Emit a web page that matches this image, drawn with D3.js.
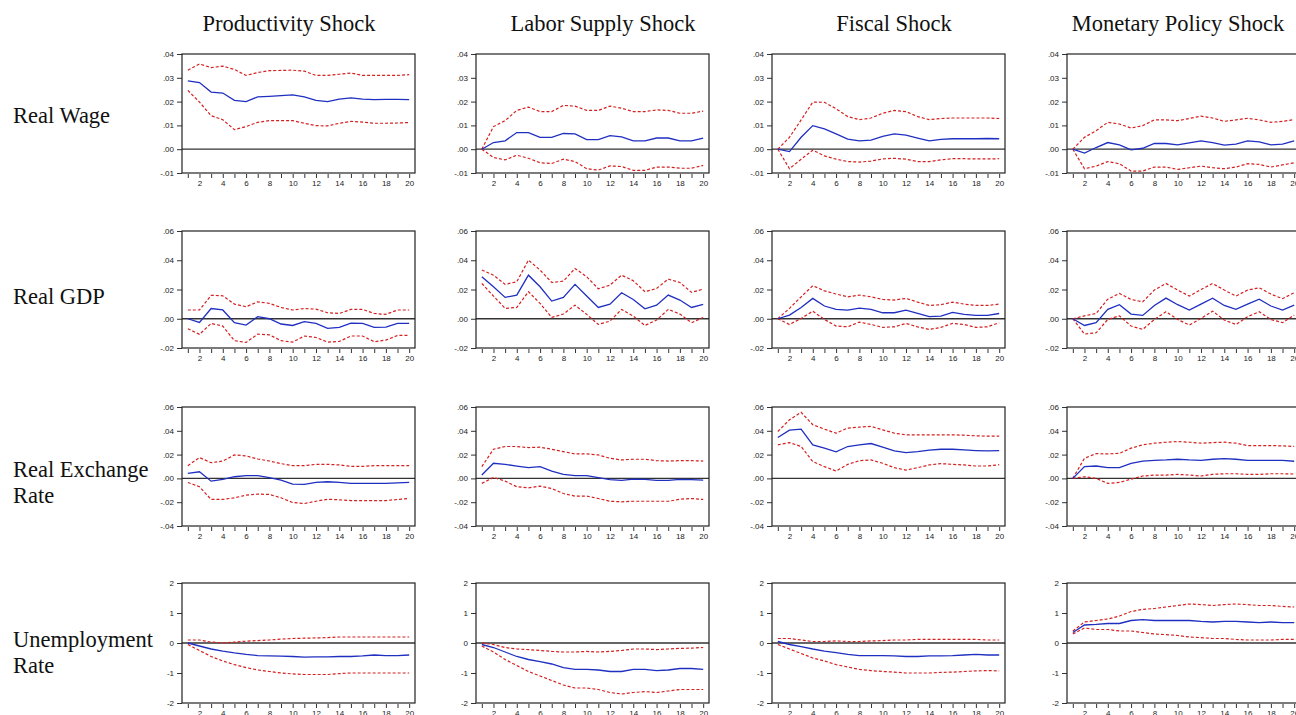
<!DOCTYPE html>
<html>
<head>
<meta charset="utf-8">
<script src="https://cdn.jsdelivr.net/npm/d3@7"></script>
<style>
  body { margin: 0; background: #fff; }
  svg { display: block; }
</style>
</head>
<body>
<svg id="chart" width="1296" height="715"></svg>
<script>
const periods = d3.range(1, 21);
const shocks = ['Productivity Shock', 'Labor Supply Shock', 'Fiscal Shock', 'Monetary Policy Shock'];
const variables = [['Real Wage'], ['Real GDP'], ['Real Exchange', 'Rate'], ['Unemployment', 'Rate']];
const yTickValues = [
  [-0.01, 0, 0.01, 0.02, 0.03, 0.04],
  [-0.02, 0, 0.02, 0.04, 0.06],
  [-0.04, -0.02, 0, 0.02, 0.04, 0.06],
  [-2, -1, 0, 1, 2]
];

// Real wage responses
const wageProd   = [.0287,.028,.024,.0236,.0205,.020,.022,.0222,.0225,.0228,.022,.0205,.020,.021,.0216,.021,.0208,.0209,.0209,.0208];
const wageProdHi = [.0332,.0358,.0343,.0349,.0335,.031,.0322,.033,.0331,.0332,.0328,.031,.031,.0315,.032,.031,.031,.031,.031,.0313];
const wageProdLo = [.0247,.0198,.0141,.0124,.0082,.0095,.0113,.012,.012,.012,.0109,.0099,.0098,.0109,.0117,.0114,.0109,.0109,.011,.0112];
const wageLab    = [0,.0028,.0035,.007,.007,.005,.005,.0066,.0064,.004,.004,.0057,.0052,.0035,.0035,.0047,.0047,.0035,.0035,.0047];
const wageLabHi  = [0,.0095,.012,.0163,.0177,.0158,.0158,.0184,.0181,.0163,.0163,.0181,.0172,.0158,.0158,.0165,.0163,.0151,.0151,.016];
const wageLabLo  = [0,-.0035,-.0045,-.0025,-.0038,-.0057,-.006,-.0042,-.0052,-.0082,-.0088,-.007,-.0073,-.0089,-.0089,-.0075,-.0075,-.008,-.008,-.0068];
const wageFis    = [0,-.001,.005,.0099,.0085,.0064,.0042,.0035,.0038,.0054,.0064,.0059,.0047,.0035,.0041,.0044,.0044,.0044,.0045,.0044];
const wageFisHi  = [0,.005,.0123,.0198,.0197,.017,.0137,.0124,.0131,.0151,.0163,.0158,.0137,.0124,.0129,.0131,.0131,.0131,.0131,.0129];
const wageFisLo  = [0,-.0082,-.0042,-.0004,-.0028,-.0042,-.0052,-.0054,-.005,-.0041,-.0038,-.0042,-.0052,-.0052,-.0045,-.004,-.004,-.0041,-.0041,-.004];
const wageMon    = [0,-.0016,.0007,.0028,.0018,-.0003,.0004,.0024,.0024,.0018,.0027,.0035,.0028,.0017,.0021,.0035,.0031,.0018,.0021,.0035];
const wageMonHi  = [0,.005,.0078,.0113,.0106,.0089,.0099,.0123,.0123,.012,.0129,.0139,.0131,.0117,.0123,.013,.0123,.0113,.0117,.0124];
const wageMonLo  = [0,-.0082,-.0071,-.0052,-.0061,-.0092,-.0092,-.0075,-.0075,-.0085,-.0078,-.0071,-.0078,-.0082,-.0075,-.0061,-.0064,-.0075,-.0066,-.0057];

// Real GDP responses
const gdpProd   = [0,-.0025,.007,.006,-.0027,-.0043,.0014,0,-.0036,-.0046,-.002,-.0032,-.0066,-.0059,-.003,-.0032,-.0059,-.0057,-.0032,-.0032];
const gdpProdHi = [.006,.006,.016,.0157,.01,.0082,.0116,.0105,.0077,.006,.007,.0066,.0041,.0036,.0064,.0064,.0036,.003,.006,.006];
const gdpProdLo = [-.0068,-.0107,-.0032,-.005,-.015,-.0162,-.0105,-.011,-.015,-.016,-.0118,-.0128,-.016,-.0155,-.0118,-.0118,-.0157,-.0146,-.0114,-.0114];
const gdpLab    = [.0287,.0219,.0146,.0162,.0298,.0219,.0121,.0146,.0235,.0155,.0077,.01,.0178,.0132,.0068,.0093,.0162,.0128,.0077,.0098];
const gdpLabHi  = [.0333,.0298,.0235,.0253,.0401,.0333,.0248,.0257,.0344,.0287,.0205,.023,.0298,.026,.0185,.0207,.0271,.0248,.018,.0203];
const gdpLabLo  = [.0241,.0155,.0071,.0077,.0185,.0105,.0009,.0032,.0093,.003,-.0039,-.0016,.0064,.0018,-.0046,-.0009,.0064,.0032,-.0027,.0009];
const gdpFis    = [0,.0025,.0077,.0139,.0087,.0064,.0059,.0073,.0064,.0041,.0041,.0059,.0036,.0014,.0018,.0043,.003,.0023,.0023,.0036];
const gdpFisHi  = [0,.0071,.015,.0226,.0191,.0169,.015,.0162,.015,.0132,.0128,.0139,.0114,.0091,.0096,.0114,.01,.0091,.0091,.01];
const gdpFisLo  = [0,-.0039,.0002,.0052,-.0005,-.005,-.0055,-.0023,-.0039,-.0059,-.0055,-.0032,-.0055,-.0073,-.0059,-.0032,-.0039,-.0059,-.0055,-.0027];
const gdpMon    = [0,-.0046,-.0027,.0064,.0096,.0032,.0023,.0091,.0141,.0096,.0059,.01,.0141,.0091,.0064,.01,.0134,.0087,.0059,.0093];
const gdpMonHi  = [0,.002,.0036,.0134,.0173,.0132,.0116,.0196,.0241,.0196,.0155,.02,.0241,.0196,.0155,.0196,.0212,.0169,.0137,.0178];
const gdpMonLo  = [0,-.0105,-.0096,-.0005,.002,-.005,-.0073,-.0005,.0048,-.0005,-.0043,.0002,.0052,-.0009,-.0039,.0014,.0048,-.0005,-.0027,.0025];

// Real exchange rate responses
const rerProd   = [.0042,.0056,-.0023,-.0008,.0014,.0023,.0023,.0006,-.0014,-.0048,-.0051,-.0034,-.0028,-.0034,-.0042,-.0042,-.0042,-.0042,-.0037,-.0034];
const rerProdHi = [.0107,.0175,.0132,.0146,.0197,.0189,.0163,.0146,.0124,.0107,.0107,.0118,.0118,.0113,.0101,.0101,.0107,.0107,.0107,.0107];
const rerProdLo = [-.0034,-.007,-.0177,-.0177,-.0163,-.0141,-.0132,-.0135,-.0163,-.0203,-.0211,-.0192,-.0175,-.018,-.0186,-.0186,-.0186,-.0186,-.0177,-.0169];
const rerLab    = [.0028,.0127,.0118,.0104,.009,.0099,.0062,.0034,.0023,.0023,.0006,-.0011,-.0017,-.0006,-.0008,-.0017,-.0017,-.0008,-.0011,-.0014];
const rerLabHi  = [.0099,.0245,.0268,.0268,.0259,.0262,.0245,.0225,.0206,.0206,.0197,.0169,.0155,.0161,.0161,.0149,.0146,.0149,.0149,.0146];
const rerLabLo  = [-.0042,.0008,-.0023,-.007,-.0079,-.0065,-.0085,-.0127,-.0149,-.0149,-.0169,-.0192,-.0197,-.0192,-.0192,-.0192,-.0192,-.0175,-.0169,-.0177];
const rerFis    = [.0344,.0406,.0414,.0282,.0254,.0223,.0268,.0282,.0293,.0262,.0231,.0217,.0225,.0237,.0245,.0245,.0239,.0234,.0231,.0234];
const rerFisHi  = [.0394,.0493,.0555,.0451,.0414,.038,.0423,.0431,.0437,.0408,.038,.0366,.0366,.0366,.0366,.0366,.0363,.0358,.0355,.0355];
const rerFisLo  = [.0282,.0301,.0268,.0141,.0099,.0062,.0118,.0149,.0155,.0127,.009,.007,.009,.0113,.0124,.0118,.0113,.0104,.0104,.0115];
const rerMon    = [0,.0099,.0104,.009,.009,.0127,.0146,.0152,.0155,.0161,.0155,.0152,.0161,.0166,.0161,.0152,.0152,.0152,.0152,.0144];
const rerMonHi  = [0,.0169,.0208,.0206,.0211,.0254,.0282,.0296,.0304,.031,.0304,.0296,.0301,.0304,.0296,.0276,.0276,.0276,.0273,.0268];
const rerMonLo  = [0,.0014,0,-.0042,-.0034,-.0006,.002,.0028,.0028,.0034,.0028,.002,.0034,.0039,.0039,.0034,.0034,.0039,.0039,.0037];

// Unemployment rate responses
const unProd   = [0,-.1,-.2,-.27,-.33,-.38,-.42,-.43,-.44,-.45,-.47,-.46,-.46,-.45,-.45,-.43,-.4,-.42,-.42,-.4];
const unProdHi = [.1,.1,.03,0,.03,.06,.08,.1,.13,.15,.16,.17,.18,.2,.2,.2,.2,.2,.2,.2];
const unProdLo = [-.05,-.25,-.45,-.6,-.72,-.82,-.9,-.95,-1.0,-1.03,-1.05,-1.05,-1.05,-1.02,-1.0,-1.0,-1.0,-1.0,-1.0,-1.0];
const unLab    = [-.05,-.15,-.3,-.45,-.55,-.62,-.7,-.82,-.88,-.88,-.9,-.95,-.95,-.88,-.88,-.92,-.9,-.85,-.85,-.88];
const unLabHi  = [0,-.05,-.15,-.2,-.22,-.25,-.28,-.3,-.3,-.28,-.3,-.28,-.25,-.2,-.2,-.22,-.2,-.18,-.17,-.15];
const unLabLo  = [-.1,-.3,-.55,-.75,-.95,-1.1,-1.25,-1.4,-1.5,-1.5,-1.55,-1.65,-1.7,-1.65,-1.62,-1.65,-1.6,-1.55,-1.55,-1.55];
const unFis    = [.05,-.05,-.12,-.2,-.27,-.32,-.38,-.42,-.42,-.42,-.43,-.45,-.45,-.43,-.43,-.42,-.4,-.38,-.4,-.4];
const unFisHi  = [.15,.15,.1,.05,.05,.07,.05,.05,.07,.08,.1,.1,.12,.12,.12,.12,.12,.12,.1,.1];
const unFisLo  = [-.05,-.2,-.35,-.5,-.6,-.72,-.8,-.88,-.92,-.95,-.97,-1.0,-1.0,-1.0,-.98,-.97,-.95,-.93,-.92,-.93];
const unMon    = [.35,.6,.62,.65,.65,.75,.78,.75,.75,.75,.75,.72,.7,.72,.72,.7,.68,.7,.68,.68];
const unMonHi  = [.4,.7,.75,.8,.9,1.05,1.12,1.15,1.2,1.25,1.3,1.28,1.25,1.28,1.3,1.28,1.25,1.25,1.22,1.2];
const unMonLo  = [.3,.5,.45,.45,.4,.4,.35,.3,.28,.25,.2,.18,.15,.15,.12,.1,.1,.1,.12,.12];

const grid = [
  [[wageProd, wageProdLo, wageProdHi], [wageLab, wageLabLo, wageLabHi], [wageFis, wageFisLo, wageFisHi], [wageMon, wageMonLo, wageMonHi]],
  [[gdpProd, gdpProdLo, gdpProdHi], [gdpLab, gdpLabLo, gdpLabHi], [gdpFis, gdpFisLo, gdpFisHi], [gdpMon, gdpMonLo, gdpMonHi]],
  [[rerProd, rerProdLo, rerProdHi], [rerLab, rerLabLo, rerLabHi], [rerFis, rerFisLo, rerFisHi], [rerMon, rerMonLo, rerMonHi]],
  [[unProd, unProdLo, unProdHi], [unLab, unLabLo, unLabHi], [unFis, unFisLo, unFisHi], [unMon, unMonLo, unMonHi]]
];

// layout
const colLeft = [182, 476, 772, 1067];
const panelW = 233;
const rowTop = [54, 231, 407, 583];
const rowBottom = [173, 348, 526, 703];
const titleX = [289, 603, 894, 1178];
const labelY = [123, 304, 477, 647];

const svg = d3.select('#chart');
const serif = "'Liberation Serif', 'Times New Roman', serif";
const sans = "'Liberation Sans', Arial, sans-serif";

// hyphen-minus, no leading zero (".04", "-.01")
const fmtSmall = d => {
  if (d === 0) return '.00';
  const s = Math.abs(d).toFixed(2).replace(/^0/, '');
  return (d < 0 ? '-' : '') + s;
};
const fmtInt = d => (d < 0 ? '-' : '') + Math.abs(d);

shocks.forEach((s, c) => {
  svg.append('text')
    .attr('x', titleX[c]).attr('y', 31)
    .attr('text-anchor', 'middle')
    .style('font-family', serif).style('font-size', '22.5px').style('fill', '#111')
    .text(s);
});

variables.forEach((lines, r) => {
  lines.forEach((t, i) => {
    svg.append('text')
      .attr('x', 13).attr('y', labelY[r] + i * 26)
      .style('font-family', serif).style('font-size', '22.5px').style('fill', '#111')
      .text(t);
  });
});

const line = (x, y) => d3.line().x((d, i) => x(periods[i])).y(d => y(d));

grid.forEach((row, r) => {
  const ticks = yTickValues[r];
  row.forEach(([mid, lo, hi], c) => {
    const x = d3.scaleLinear().domain([0.5, 20.5]).range([colLeft[c], colLeft[c] + panelW]);
    const y = d3.scaleLinear().domain(d3.extent(ticks)).range([rowBottom[r], rowTop[r]]);
    const g = svg.append('g');

    // x axis ticks, labels on even periods
    const xAxis = g.append('g')
      .attr('transform', `translate(0,${rowBottom[r] + 1})`)
      .call(d3.axisBottom(x).tickValues(periods).tickSize(4).tickPadding(2)
        .tickFormat(d => d % 2 === 0 ? d : ''));
    xAxis.select('.domain').remove();

    const yAxis = g.append('g')
      .attr('transform', `translate(${colLeft[c]},0)`)
      .call(d3.axisLeft(y).tickValues(ticks).tickSize(5).tickPadding(3)
        .tickFormat(r === 3 ? fmtInt : fmtSmall));
    yAxis.select('.domain').remove();

    [xAxis, yAxis].forEach(a => {
      a.selectAll('text').style('font-family', sans).style('font-size', '8px').style('fill', '#222');
      a.selectAll('line').attr('stroke', '#333');
    });

    // zero line
    g.append('line')
      .attr('x1', x(0.5)).attr('x2', x(20.5))
      .attr('y1', y(0)).attr('y2', y(0))
      .attr('stroke', '#333').attr('stroke-width', 1.3);

    [lo, hi].forEach(band => {
      g.append('path').datum(band)
        .attr('d', line(x, y))
        .attr('fill', 'none').attr('stroke', '#d42020')
        .attr('stroke-width', 1.2).attr('stroke-dasharray', '3,2');
    });

    g.append('path').datum(mid)
      .attr('d', line(x, y))
      .attr('fill', 'none').attr('stroke', '#1f2fc0')
      .attr('stroke-width', 1.3);

    // frame
    g.append('rect')
      .attr('x', x(0.5)).attr('y', rowTop[r])
      .attr('width', panelW).attr('height', rowBottom[r] - rowTop[r])
      .attr('fill', 'none').attr('stroke', '#222').attr('stroke-width', 1.2);
  });
});
</script>
</body>
</html>
